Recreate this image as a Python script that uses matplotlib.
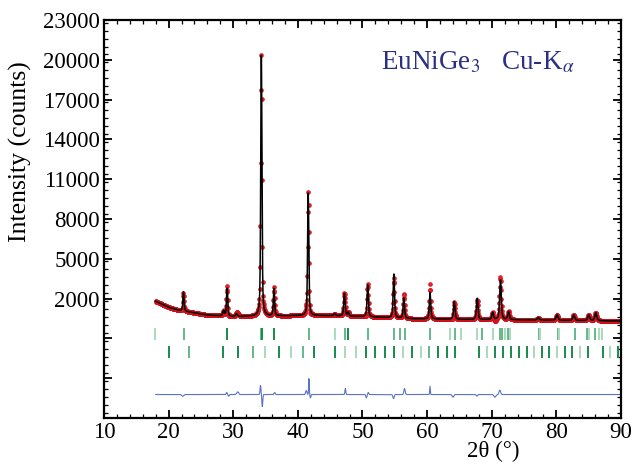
import numpy as np
import matplotlib
matplotlib.use('Agg')
import matplotlib.pyplot as plt
from matplotlib.ticker import MultipleLocator, FixedLocator, FixedFormatter

plt.rcParams['font.family'] = ['Liberation Serif', 'DejaVu Serif']
plt.rcParams['mathtext.fontset'] = 'stix'

# ---- data ----
# background knots (2theta, counts)
bg_pos = [18, 20, 21.7, 24, 26, 30, 35, 40, 45, 50, 57.8, 65.5, 75, 90]
bg_val = [1800, 1350, 1100, 930, 760, 650, 680, 720, 720, 650, 480, 430, 400, 310]

# calculated reflections: position, height above background, fwhm
pk_pos = [22.3, 28.5, 29.05, 30.5, 34.35, 36.3, 41.6, 45.7, 47.2, 47.8, 50.8,
          54.85, 56.4, 60.45, 64.2, 67.75, 70.15, 71.35, 72.6, 77.2, 80.1,
          82.7, 85.0, 86.1]
pk_hgt = [1450, 400, 2100, 200, 19650, 2050, 9230, 150, 1700, 300, 2400,
          3300, 1550, 2000, 1330, 1600, 530, 3000, 600, 175, 400,
          400, 420, 600]
pk_fw = [0.22, 0.25, 0.22, 0.3, 0.22, 0.22, 0.22, 0.3, 0.24, 0.25, 0.24,
         0.25, 0.25, 0.26, 0.27, 0.28, 0.3, 0.3, 0.3, 0.35, 0.35,
         0.35, 0.35, 0.35]

# observed minus calculated features: position, amplitude, width
df_pos = [22.2, 29.0, 29.3, 30.7, 34.22, 34.5, 36.4, 41.3, 41.72, 41.95, 47.35,
          50.6, 50.9, 54.8, 56.5, 60.45, 64.0, 67.7, 70.5, 71.25]
df_amp = [-130, 150, -130, 200, 700, -900, 150, 300, 1300, -250, 450,
          -250, 150, -300, 450, 625, -200, -120, -200, 330]
df_wid = [0.15, 0.08, 0.08, 0.15, 0.07, 0.07, 0.1, 0.1, 0.05, 0.07, 0.07,
          0.08, 0.08, 0.1, 0.1, 0.05, 0.12, 0.1, 0.15, 0.12]

# reflection markers (phase 1 / phase 2), shade 0 dark, 1 medium, 2 light
ref1_pos = [17.94, 22.33, 29.08, 34.25, 34.4, 36.31, 41.67, 45.70, 47.24, 47.8,
            50.8, 54.87, 55.85, 56.53, 60.40, 63.49, 64.27, 65.29, 67.67, 68.45,
            70.19, 71.28, 71.59, 72.0, 72.5, 72.82, 77.26, 77.51, 80.2, 80.45,
            82.83, 84.73, 85.1, 86.02, 86.55, 87.06]
ref1_shade = [2, 1, 0, 1, 0, 0, 1, 2, 1, 0,
              1, 1, 1, 1, 1, 2, 1, 2, 2, 1,
              2, 1, 1, 2, 1, 2, 1, 2, 1, 2,
              1, 1, 2, 1, 2, 2]
ref2_pos = [20.0, 23.1, 28.46, 30.78, 33.0, 34.96, 37.03, 38.89, 40.75, 42.45,
            45.79, 47.34, 48.95, 50.50, 51.89, 53.43, 54.83, 56.27, 57.61, 59.01,
            60.29, 61.68, 63.03, 64.27, 67.98, 69.26, 70.46, 71.79, 72.98, 74.17,
            75.41, 76.58, 77.73, 78.91, 80.05, 81.33, 82.42, 83.66, 84.85, 87.17,
            88.35, 89.49]
ref2_shade = [0, 1, 0, 0, 1, 2, 0, 2, 1, 0,
              0, 2, 2, 0, 0, 0, 0, 2, 0, 2,
              1, 0, 0, 0, 0, 2, 0, 0, 0, 0,
              0, 2, 0, 0, 2, 0, 0, 2, 0, 0,
              2, 0]

x_ticks = [10, 20, 30, 40, 50, 60, 70, 80, 90]
y_ticks = [-7000, -4000, -1000, 2000, 5000, 8000, 11000, 14000, 17000, 20000, 23000]
y_labels = ['', '', '', '2000', '5000', '8000', '11000', '14000', '17000', '20000', '23000']

# ---- build profiles from the peak list ----
tt = np.arange(18.0, 90.0001, 0.05)


def pv(x, x0, h, w, eta=0.5):
    g = np.exp(-4 * np.log(2) * ((x - x0) / w) ** 2)
    l = 1.0 / (1 + 4 * ((x - x0) / w) ** 2)
    return h * (eta * l + (1 - eta) * g)


calc = np.interp(tt, bg_pos, bg_val)
for p, h, w in zip(pk_pos, pk_hgt, pk_fw):
    calc = calc + pv(tt, p, h, w)

diff = np.zeros_like(tt)
for p, a, w in zip(df_pos, df_amp, df_wid):
    diff = diff + a * np.exp(-0.5 * ((tt - p) / w) ** 2)
obs = calc + diff

# smooth calculated curve on a fine grid
tf = np.arange(18.0, 90.0001, 0.01)
calc_f = np.interp(tf, bg_pos, bg_val)
for p, h, w in zip(pk_pos, pk_hgt, pk_fw):
    calc_f = calc_f + pv(tf, p, h, w)

shades = ['#1a8a4c', '#66b88a', '#a9d9bc']

fig = plt.figure(figsize=(6.36, 4.68), dpi=100)
ax = fig.add_axes([0.1635, 0.1068, 0.8129, 0.8505])

ax.plot(tt, obs, 'o', ms=2.8, mfc='#ee1c24', mec='#c8101a', mew=0.4, zorder=2)
ax.plot(tf, calc_f, '-', color='black', lw=1.1, zorder=3)
ax.vlines(ref1_pos, -1150, -250, colors=[shades[s] for s in ref1_shade], lw=1.4)
ax.vlines(ref2_pos, -2450, -1550, colors=[shades[s] for s in ref2_shade], lw=1.4)
ax.plot(tt, diff - 5230, color='#5a74c4', lw=0.8)

ax.text(0.535, 0.893, r'EuNiGe$_3$   Cu-K$_\alpha$', transform=ax.transAxes,
        fontsize=19.5, color='#2b3082', ha='left', va='center')

ax.set_xlim(10, 90)
ax.set_ylim(-7000, 23000)
ax.xaxis.set_major_locator(FixedLocator(x_ticks))
ax.xaxis.set_minor_locator(MultipleLocator(2))
ax.yaxis.set_major_locator(FixedLocator(y_ticks))
ax.yaxis.set_major_formatter(FixedFormatter(y_labels))
ax.yaxis.set_minor_locator(MultipleLocator(600))
ax.tick_params(which='both', direction='in', top=True, right=True, labelsize=16.5)
ax.tick_params(which='major', length=6, width=1.3, pad=3)
ax.tick_params(which='minor', length=3, width=0.9)
for s in ax.spines.values():
    s.set_linewidth(1.6)

ax.set_ylabel('Intensity (counts)', fontsize=18.5)
ax.yaxis.set_label_coords(-0.139, 0.67)
ax.set_xlabel('2θ (°)', fontsize=16.5)
ax.xaxis.set_label_coords(0.752, -0.058)

fig.savefig('out.png', dpi=100)
